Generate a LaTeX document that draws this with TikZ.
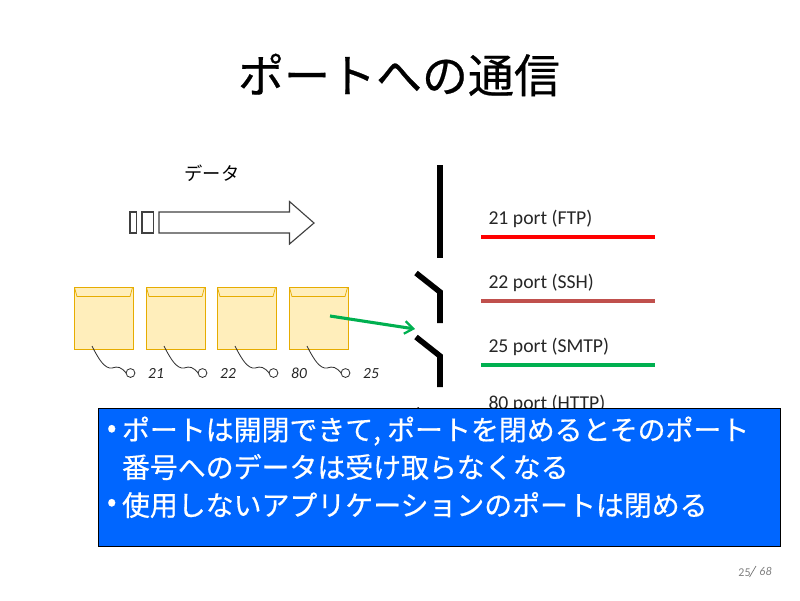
\documentclass[tikz,border=0pt]{standalone}
\usepackage{fontspec}
\setmainfont{Carlito}
\newfontfamily\jpfont{Noto Sans CJK JP}
\newfontfamily\jpheavy[FakeBold=0.5]{Noto Sans CJK JP}
\usetikzlibrary{arrows.meta,positioning}
\definecolor{boxblue}{HTML}{0066FF}
\definecolor{envfill}{HTML}{FFEEBB}
\definecolor{envline}{HTML}{E6AC00}
\definecolor{portgreen}{HTML}{00B050}
\definecolor{portdull}{HTML}{C0504D}

\begin{document}
\begin{tikzpicture}[x=0.025cm, y=-0.025cm,
  every node/.style = {
    inner sep = 0,
    outer sep = 0,
  },
  envelope/.style = {
    rectangle,
    draw = envline,
    fill = envfill,
    line width = 0.7pt,
    minimum width = 1.475cm,
    minimum height = 1.55cm,
  },
  hole/.style = {
    circle,
    draw = black!80,
    line width = 0.6pt,
    minimum size = 0.22cm,
  },
  wall/.style = {line width = 4pt},
  portline/.style = {line width = 2.2pt},
  portlabel/.style = {anchor = west, font = \fontsize{14}{16}\selectfont, text = black!85},
  numlabel/.style = {font = \fontsize{11}{13}\selectfont\itshape, text = black!85},
  pagelabel/.style = {font = \fontsize{8.5}{10}\selectfont\itshape, text = black!50},
  boxtext/.style = {anchor = west, text = white, font = \jpheavy\fontsize{19.85}{22}\selectfont},
]
\useasboundingbox (0, 0) rectangle (800, 600);

\node[font = \jpheavy\fontsize{32.7}{36}\selectfont] (title) at (399, 75) {ポートへの通信};
\node[font = \jpfont\fontsize{13}{15}\selectfont] (data) at (212, 173) {データ};

\draw[black!75, line width = 0.8pt] (130, 212) rectangle (136.5, 233);
\draw[black!75, line width = 0.8pt] (142, 212) rectangle (153.5, 233);
\draw[black!75, line width = 0.8pt] (159, 212) -- (289.5, 212) -- (289.5, 201.5) -- (314, 223) -- (289.5, 244) -- (289.5, 233) -- (159, 233) -- cycle;

\foreach \n/\x/\num/\numx in {1/74/21/156, 2/146/22/228, 3/217/80/299, 4/289/25/371} {
  \node[envelope, anchor = north west] (env\n) at (\x+0.3, 287.5) {};
  \draw[envline, line width = 0.5pt] (\x+0.5, 287.5) -- (\x+3, 296.5) -- (\x+56, 296.5) -- (\x+58.5, 287.5);
  \coordinate (tail\n) at (\x+18, 346);
  \node[hole] (hole\n) at (\x+56.5, 373) {};
  \draw[black!80, line width = 0.6pt] (tail\n) .. controls (\x+25, 360) and (\x+31, 369) .. (\x+38, 368)
    .. controls (\x+44, 366) and (\x+47, 367) .. (hole\n.west);
  \node[numlabel] (num\n) at (\numx, 373.5) {\num};
}

\draw[wall] (440, 165) -- (440, 258);
\draw[wall, miter limit = 2] (416, 273) -- (440, 292) -- (440, 323);
\draw[wall, miter limit = 2] (416, 337) -- (440, 356) -- (440, 387);
\draw[wall, miter limit = 2] (416.3, 409.2) -- (440, 428) -- (440, 459);

\coordinate (arrowfrom) at (330, 316);
\coordinate (arrowto) at (415, 329);
\draw[portgreen, line width = 2.2pt, -{Straight Barb[length = 6pt, width = 9pt, line width = 1.6pt]}] (arrowfrom) -- (arrowto);

\node[portlabel] (ftp) at (488.5, 218.5) {21 port (FTP)};
\node[portlabel] (ssh) at (488.5, 282.5) {22 port (SSH)};
\node[portlabel] (smtp) at (488.5, 346.5) {25 port (SMTP)};
\node[portlabel] (http) at (488.5, 403.5) {80 port (HTTP)};
\draw[portline, red] (481, 237) -- (655, 237);
\draw[portline, portdull] (481, 301) -- (655, 301);
\draw[portline, portgreen] (481, 365) -- (655, 365);

\node[draw = black, fill = boxblue, line width = 0.75pt, anchor = north west,
  minimum width = 17.04cm, minimum height = 3.46cm] (box) at (98.5, 408.5) {};
\node[boxtext] (bullet1) at (107, 431) {•};
\node[boxtext] (line1) at (122, 431) {ポートは開閉できて, ポートを閉めるとそのポート};
\node[boxtext] (line2) at (122, 467) {番号へのデータは受け取らなくなる};
\node[boxtext] (bullet2) at (107, 505) {•};
\node[boxtext] (line3) at (122, 505) {使用しないアプリケーションのポートは閉める};

\node[pagelabel, font = \fontsize{8.5}{10}\selectfont] (page) at (744.5, 573) {25};
\coordinate (slashlow) at (749.5, 577);
\coordinate (slashhigh) at (756, 566);
\draw[black!55, line width = 0.5pt] (slashlow) -- (slashhigh);
\node[pagelabel] (total) at (765.5, 571) {68};
\end{tikzpicture}
\end{document}
